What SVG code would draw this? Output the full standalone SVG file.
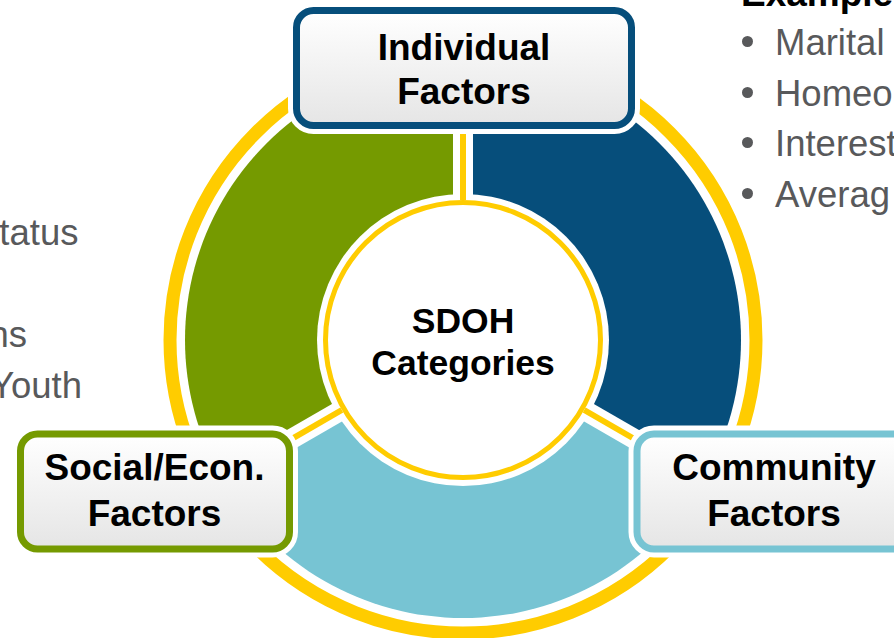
<svg xmlns="http://www.w3.org/2000/svg" width="894" height="638" viewBox="0 0 894 638">
  <defs>
    <linearGradient id="boxFill" x1="0" y1="0" x2="0" y2="1">
      <stop offset="0" stop-color="#FFFFFF"/>
      <stop offset="1" stop-color="#E5E5E5"/>
    </linearGradient>
    <style>
      .lbl{font-family:"Liberation Sans",Arial,sans-serif;font-weight:bold;font-size:37px;fill:#000000;text-anchor:middle}
      .ctr{font-family:"Liberation Sans",Arial,sans-serif;font-weight:bold;font-size:35.5px;fill:#000000;text-anchor:middle}
      .note{font-family:"Liberation Sans",Arial,sans-serif;font-size:36.5px;fill:#58595B}
      .head{font-family:"Liberation Sans",Arial,sans-serif;font-weight:bold;font-size:37px;fill:#000000}
      .halo{fill:none;stroke:#FFFFFF;stroke-width:17}
      .box{fill:url(#boxFill);stroke-width:7}
      .gap{stroke:#FFFFFF;stroke-width:20;stroke-linecap:butt}
      .divider{stroke:#FFCC00;stroke-width:6;stroke-linecap:butt}
      .bullet{fill:#58595B}
    </style>
  </defs>

  <rect width="894" height="638" fill="#FFFFFF"/>

  <!-- side notes (partly outside the canvas) -->
  <g id="notes-left" class="note" text-anchor="end">
    <text x="78.5" y="245">tatus</text>
    <text x="27" y="347">ns</text>
    <text x="82" y="398">Youth</text>
  </g>
  <g id="notes-right">
    <text class="head" x="741" y="6">Example</text>
    <circle class="bullet" cx="747.5" cy="41.5" r="5.5"/>
    <circle class="bullet" cx="747.5" cy="92.5" r="5.5"/>
    <circle class="bullet" cx="747.5" cy="142.5" r="5.5"/>
    <circle class="bullet" cx="747.5" cy="193.5" r="5.5"/>
    <text class="note" x="775" y="55">Marital</text>
    <text class="note" x="775" y="106">Homeo</text>
    <text class="note" x="775" y="156">Interest</text>
    <text class="note" x="775" y="207">Averag</text>
  </g>

  <!-- wheel: outer ring, three sectors, center hub -->
  <g id="wheel">
    <circle cx="463" cy="340" r="293" fill="none" stroke="#FFCC00" stroke-width="13"/>
    <path d="M463,340 L463,62 A278,278 0 0,0 222.25,479 Z" fill="#759A00"/>
    <path d="M463,340 L463,62 A278,278 0 0,1 703.75,479 Z" fill="#064E7B"/>
    <path d="M463,340 L222.25,479 A278,278 0 0,0 703.75,479 Z" fill="#77C4D3"/>
  </g>

  <g id="connectors">
    <line class="gap" x1="463" y1="340" x2="463" y2="57"/>
    <line class="gap" x1="463" y1="340" x2="217.9" y2="481.5"/>
    <line class="gap" x1="463" y1="340" x2="708.1" y2="481.5"/>
    <circle cx="463" cy="340" r="146" fill="#FFFFFF"/>
    <line class="divider" x1="463" y1="200" x2="463" y2="47"/>
    <line class="divider" x1="341.8" y1="410" x2="209.3" y2="486.5"/>
    <line class="divider" x1="584.2" y1="410" x2="716.7" y2="486.5"/>
  </g>

  <g id="center">
    <circle cx="463" cy="340" r="137.5" fill="#FFFFFF" stroke="#FFCC00" stroke-width="5"/>
    <text class="ctr" x="463" y="333">SDOH</text>
    <text class="ctr" x="463" y="375">Categories</text>
  </g>

  <g id="individual">
    <rect class="halo" x="296.5" y="10.5" width="335" height="115" rx="17"/>
    <rect class="box" x="296.5" y="10.5" width="335" height="115" rx="17" stroke="#064E7B"/>
    <text class="lbl" x="464" y="60">Individual</text>
    <text class="lbl" x="464" y="104">Factors</text>
  </g>

  <g id="social">
    <rect class="halo" x="20.5" y="434" width="269" height="115" rx="17"/>
    <rect class="box" x="20.5" y="434" width="269" height="115" rx="17" stroke="#759A00"/>
    <text class="lbl" x="154.5" y="480">Social/Econ.</text>
    <text class="lbl" x="154.5" y="526">Factors</text>
  </g>

  <g id="community">
    <rect class="halo" x="637" y="434" width="300" height="115" rx="17"/>
    <rect class="box" x="637" y="434" width="300" height="115" rx="17" stroke="#77C4D3"/>
    <text class="lbl" x="774" y="480">Community</text>
    <text class="lbl" x="774" y="526">Factors</text>
  </g>
</svg>
